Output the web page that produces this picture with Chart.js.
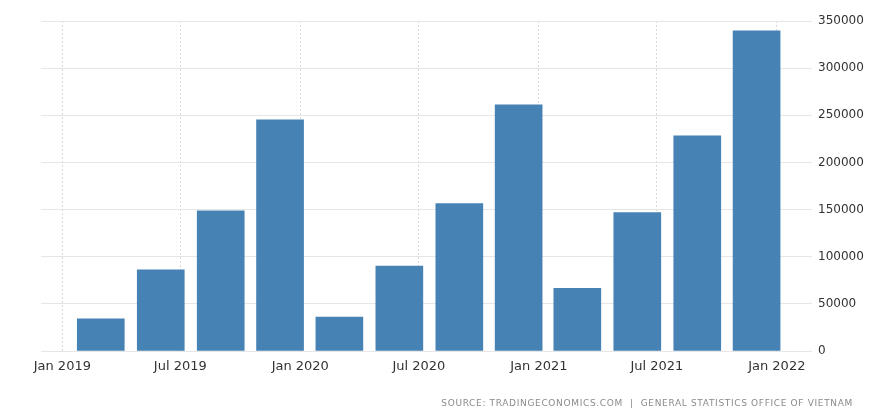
<!DOCTYPE html>
<html>
<head>
<meta charset="utf-8">
<script src="https://cdn.jsdelivr.net/npm/chart.js@4.4.1/dist/chart.umd.min.js"></script>
<style>
  html, body { margin: 0; padding: 0; background: #fff; }
  #wrap { position: relative; width: 874px; height: 418px; }
  #source {
    position: absolute; right: 21px; top: 398px;
    font: 9px "DejaVu Sans", sans-serif; letter-spacing: 0.66px;
    color: #8a8a8a; white-space: pre;
  }
</style>
</head>
<body>
<div id="wrap">
  <canvas id="chart" width="874" height="418"></canvas>
  <div id="source">SOURCE: TRADINGECONOMICS.COM  |  GENERAL STATISTICS OFFICE OF VIETNAM</div>
</div>
<script>
// quarterly values, dated by the last month of each quarter
const quarters = ["2019-03", "2019-06", "2019-09", "2019-12",
                  "2020-03", "2020-06", "2020-09", "2020-12",
                  "2021-03", "2021-06", "2021-09", "2021-12"];
const values = [34200, 86000, 148700, 245300,
                35900, 90100, 156400, 261100,
                66400, 146800, 228200, 339700];
const tickMonths = ["2019-01", "2019-07", "2020-01", "2020-07", "2021-01", "2021-07", "2022-01"];
const tickLabels = ["Jan 2019", "Jul 2019", "Jan 2020", "Jul 2020", "Jan 2021", "Jul 2021", "Jan 2022"];
const yTicks = [0, 50000, 100000, 150000, 200000, 250000, 300000, 350000];

// days since Jan 1 2019
function dayOf(ym) {
  const [y, m] = ym.split("-").map(Number);
  return (Date.UTC(y, m - 1, 1) - Date.UTC(2019, 0, 1)) / 86400000;
}

const points = quarters.map((q, i) => ({ x: dayOf(q), y: values[i] }));
const tickDays = tickMonths.map(dayOf);

new Chart(document.getElementById("chart"), {
  type: "bar",
  data: {
    datasets: [{
      data: points,
      backgroundColor: "#4682b4",
      borderWidth: 0,
      barThickness: 47
    }]
  },
  options: {
    responsive: false,
    animation: false,
    layout: { padding: { left: 41, top: 21, right: 0, bottom: 0 } },
    plugins: { legend: { display: false }, tooltip: { enabled: false } },
    scales: {
      x: {
        type: "linear",
        offset: false,
        min: -32.7,
        max: 1150,
        afterBuildTicks: (scale) => { scale.ticks = tickDays.map((v) => ({ value: v })); },
        afterFit: (scale) => { scale.height = 67; },
        grid: {
          offset: false,
          drawTicks: false,
          color: "#d8d8d8",
          lineWidth: 1
        },
        border: { display: false, dash: [2, 2] },
        ticks: {
          autoSkip: false,
          maxRotation: 0,
          padding: 8,
          color: "#333",
          font: { family: "DejaVu Sans", size: 13 },
          callback: (v) => tickLabels[tickDays.indexOf(v)] || ""
        }
      },
      y: {
        position: "right",
        min: 0,
        max: 350000,
        afterBuildTicks: (scale) => { scale.ticks = yTicks.map((v) => ({ value: v })); },
        afterFit: (scale) => { scale.width = 62; },
        grid: { drawTicks: false, color: "#e6e6e6", lineWidth: 1 },
        border: { display: false },
        ticks: {
          padding: 6,
          color: "#333",
          font: { family: "DejaVu Sans", size: 12 },
          callback: (v) => String(v)
        }
      }
    }
  }
});
</script>
</body>
</html>
